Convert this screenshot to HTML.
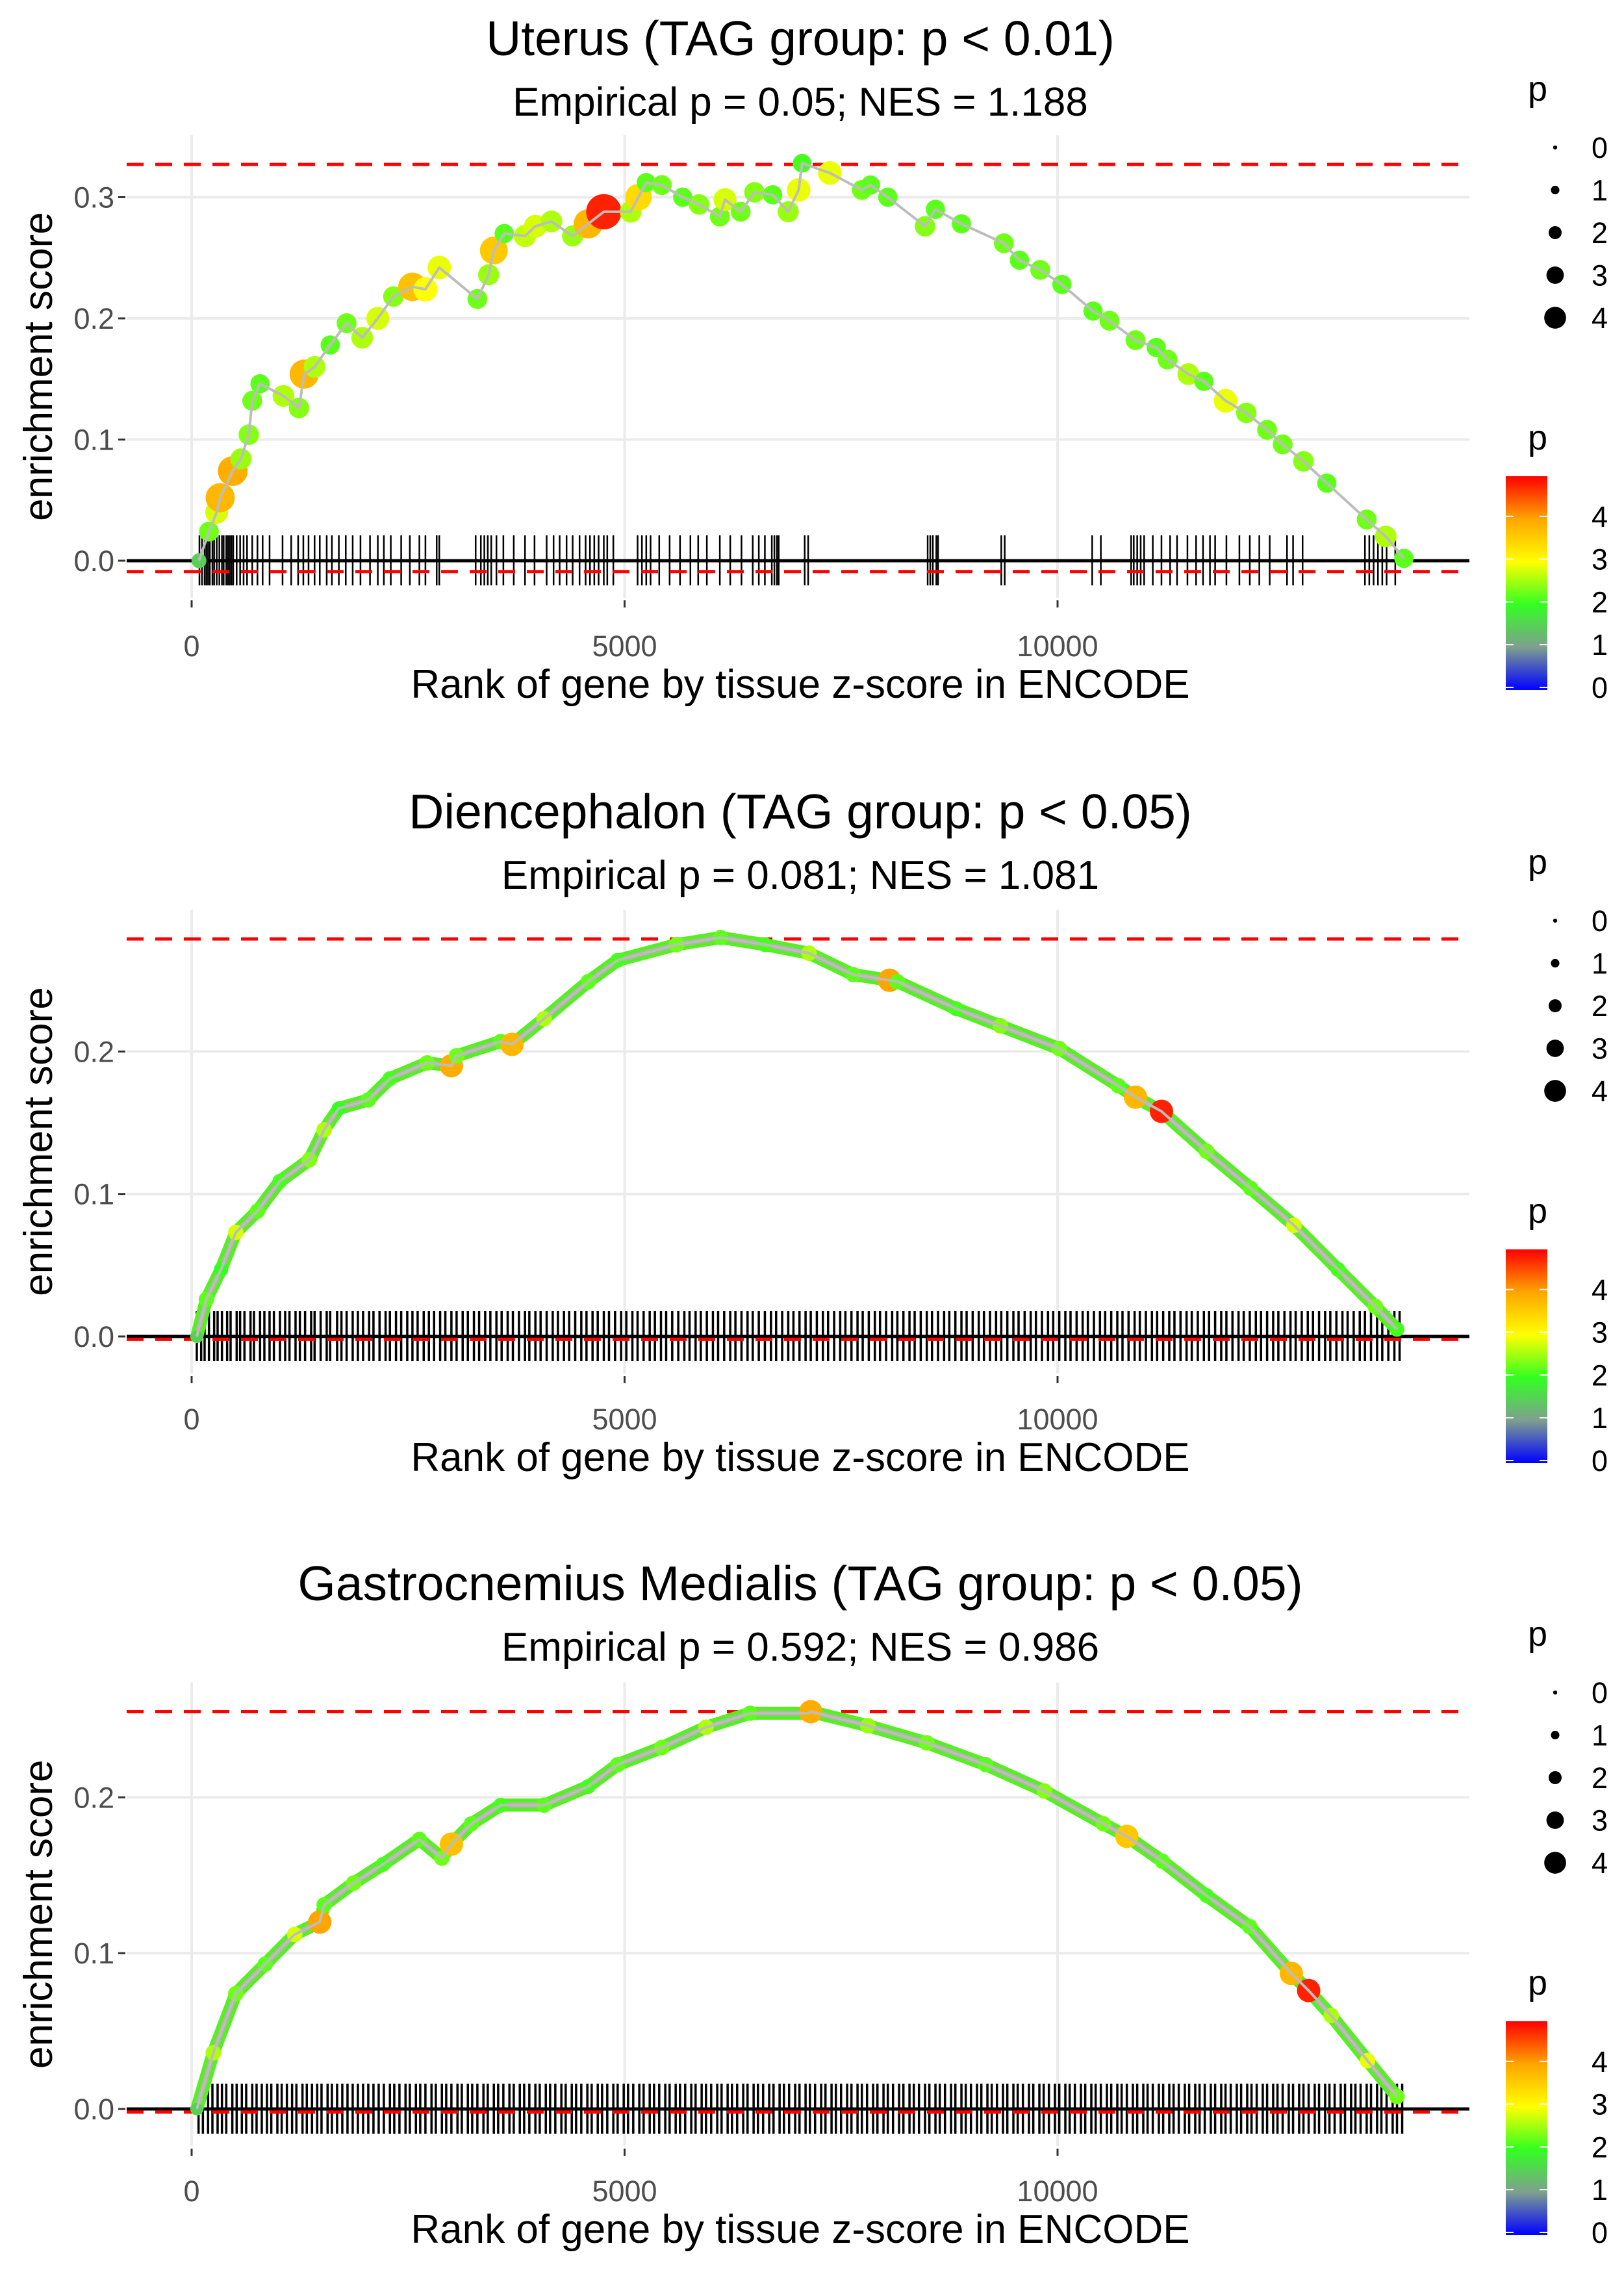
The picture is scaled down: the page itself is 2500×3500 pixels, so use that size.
<!DOCTYPE html>
<html><head><meta charset="utf-8">
<style>
html,body{margin:0;padding:0;background:#fff;}
svg{display:block;font-family:"Liberation Sans",sans-serif;}
</style></head>
<body>
<svg id="chart" width="2500" height="3500" viewBox="0 0 2500 3500" xmlns="http://www.w3.org/2000/svg">
<defs>
<linearGradient id="pgrad" x1="0" y1="1" x2="0" y2="0">
<stop offset="0" stop-color="#0000ff"/>
<stop offset="0.2" stop-color="#7f9f8f"/>
<stop offset="0.4" stop-color="#33ff22"/>
<stop offset="0.6" stop-color="#ffff00"/>
<stop offset="0.8" stop-color="#ffa500"/>
<stop offset="1" stop-color="#ff0000"/>
</linearGradient>
</defs>
</svg>
<script>
// ---------- data ----------
const xTicks = [0, 5000, 10000];
const xTickLabels = ["0", "5000", "10000"];
const panelTitles = ["Uterus (TAG group: p < 0.01)", "Diencephalon (TAG group: p < 0.05)", "Gastrocnemius Medialis (TAG group: p < 0.05)"];
const panelSubtitles = ["Empirical p = 0.05; NES = 1.188", "Empirical p = 0.081; NES = 1.081", "Empirical p = 0.592; NES = 0.986"];
const yTicks1 = [0, 0.1, 0.2, 0.3];
const yTicks2 = [0, 0.1, 0.2];
const yTicks3 = [0, 0.1, 0.2];
const maxES = [0.327, 0.279, 0.255];
const minES = [-0.009, -0.002, -0.002];

const uterusRank = [85,200,290,330,475,570,660,700,790,1060,1240,1300,1420,1600,1790,1970,2150,2330,2550,2700,2860,3300,3430,3490,3610,3850,3970,4155,4400,4580,4760,5070,5160,5250,5430,5670,5860,6100,6160,6340,6500,6710,6890,7010,7050,7370,7740,7840,8040,8470,8590,8890,9380,9560,9800,10050,10410,10600,10900,11140,11270,11510,11690,11940,12180,12420,12600,12840,13110,13570,13790,14000];
const uterusES = [0,0.024,0.04,0.052,0.074,0.084,0.104,0.132,0.146,0.136,0.126,0.154,0.16,0.178,0.196,0.184,0.2,0.218,0.226,0.224,0.242,0.216,0.236,0.256,0.27,0.268,0.276,0.28,0.268,0.278,0.288,0.288,0.3,0.312,0.31,0.3,0.294,0.284,0.298,0.288,0.304,0.302,0.288,0.306,0.328,0.32,0.306,0.31,0.3,0.276,0.29,0.278,0.262,0.248,0.24,0.228,0.206,0.198,0.182,0.176,0.166,0.154,0.148,0.132,0.122,0.108,0.096,0.082,0.064,0.034,0.02,0.002];
const uterusP = [1.5,2.3,2.8,3.8,3.9,2.5,2.4,2.3,2.2,2.6,2.4,3.8,2.6,2.2,2.3,2.6,2.8,2.4,3.7,3.0,2.9,2.3,2.5,3.6,2.2,2.7,2.8,2.6,2.5,3.8,4.8,2.6,3.4,2.2,2.3,2.2,2.4,2.3,2.8,2.3,2.4,2.2,2.5,2.9,2.1,2.9,2.3,2.2,2.2,2.4,2.2,2.2,2.3,2.2,2.3,2.2,2.2,2.3,2.3,2.2,2.3,2.6,2.2,2.9,2.4,2.3,2.3,2.4,2.2,2.3,2.6,2.2];
const uterusTicks = [90,120,150,170,190,210,240,260,290,320,350,370,400,420,440,460,480,520,560,600,640,700,760,820,900,1050,1150,1230,1290,1350,1420,1480,1560,1620,1700,1780,1860,1950,2060,2150,2220,2300,2420,2520,2630,2700,2830,2860,3280,3340,3380,3420,3460,3520,3600,3720,3850,3960,4100,4180,4250,4330,4400,4480,4550,4600,4650,4700,4760,4800,4870,5150,5200,5250,5300,5400,5520,5640,5760,5850,5950,6100,6220,6350,6480,6550,6620,6700,6730,6760,6780,7080,7120,8500,8530,8560,8600,8620,9350,9390,10400,10500,10850,10880,10920,10960,11000,11100,11200,11300,11380,11500,11600,11680,11760,11820,11950,12100,12220,12330,12450,12650,12720,12830,13550,13600,13650,13700,13750,13800,13900];

const dienRank = [60,170,340,510,760,1020,1360,1530,1700,2040,2290,2720,3000,3060,3570,3700,4070,4580,4920,5600,6110,6620,7130,7640,8060,8150,8830,9340,10020,10700,10900,11200,11720,12230,12730,13240,13670,13920];
const dienES = [0,0.026,0.047,0.073,0.088,0.109,0.124,0.145,0.16,0.166,0.181,0.192,0.19,0.197,0.207,0.205,0.223,0.249,0.264,0.275,0.28,0.275,0.269,0.254,0.25,0.249,0.23,0.218,0.202,0.176,0.168,0.158,0.13,0.104,0.078,0.047,0.021,0.005];
const dienP = [1.5,2.2,2.0,2.8,2.2,2.1,2.4,2.6,2.0,2.2,2.1,2.3,3.9,2.3,2.2,3.8,2.6,2.2,2.1,2.3,2.2,2.1,2.6,2.2,4.0,2.2,2.1,2.4,2.3,2.2,3.8,4.8,2.3,2.2,2.8,2.1,2.3,2.1];
const dienTicks = [60,110,150,200,260,300,350,410,450,520,560,610,680,720,790,840,900,950,1020,1080,1130,1200,1250,1310,1380,1420,1490,1560,1600,1680,1730,1790,1860,1920,1980,2050,2100,2170,2240,2290,2360,2420,2490,2550,2610,2680,2740,2800,2870,2930,3000,3060,3130,3190,3260,3320,3390,3450,3520,3580,3650,3710,3780,3850,3900,3970,4030,4100,4170,4230,4300,4360,4430,4500,4560,4630,4690,4760,4820,4890,4960,5020,5090,5150,5220,5290,5350,5420,5480,5550,5620,5690,5750,5820,5880,5950,6020,6080,6150,6220,6280,6350,6420,6480,6550,6620,6690,6750,6820,6890,6950,7020,7090,7150,7220,7290,7350,7420,7490,7550,7620,7690,7750,7820,7890,7950,8020,8090,8150,8220,8290,8350,8420,8490,8550,8620,8690,8750,8820,8890,8950,9020,9090,9150,9220,9290,9350,9420,9490,9550,9620,9690,9750,9820,9890,9950,10020,10090,10150,10220,10290,10350,10420,10490,10550,10620,10690,10750,10820,10890,10950,11020,11090,11150,11220,11290,11350,11420,11490,11550,11620,11690,11750,11820,11890,11950,12020,12090,12150,12220,12290,12350,12420,12490,12550,12620,12690,12750,12820,12890,12950,13020,13090,13150,13220,13290,13350,13420,13490,13550,13620,13690,13750,13820,13890,13950];

const gastRank = [60,250,510,850,1190,1480,1530,1870,2210,2630,2890,3000,3230,3570,4070,4580,4920,5430,5940,6450,7130,7150,7810,8490,9170,9850,10530,10800,11210,11720,12220,12700,12900,13160,13580,13920];
const gastES = [0,0.036,0.074,0.093,0.112,0.12,0.131,0.145,0.157,0.173,0.161,0.17,0.183,0.195,0.195,0.207,0.221,0.232,0.245,0.254,0.254,0.255,0.246,0.235,0.221,0.204,0.183,0.175,0.159,0.137,0.117,0.087,0.076,0.06,0.031,0.008];
const gastP = [1.5,2.6,2.3,2.2,2.8,4.0,2.2,2.3,2.1,2.2,2.3,3.7,2.2,2.1,2.2,2.1,2.2,2.3,2.6,2.2,2.4,3.9,2.5,2.3,2.2,2.4,2.3,3.6,2.2,2.1,2.2,3.8,4.8,2.6,2.9,2.3];
const gastTicks = [80,130,190,240,300,350,400,470,520,580,630,700,750,810,870,920,990,1040,1100,1160,1210,1280,1330,1390,1450,1500,1570,1620,1680,1740,1800,1860,1920,1980,2040,2100,2160,2220,2290,2340,2400,2470,2520,2590,2640,2700,2770,2820,2890,2940,3000,3070,3120,3190,3240,3300,3370,3420,3490,3540,3600,3670,3720,3790,3840,3900,3970,4020,4090,4140,4200,4270,4320,4390,4440,4500,4570,4620,4690,4740,4800,4870,4920,4990,5040,5100,5170,5220,5290,5340,5400,5470,5520,5590,5640,5700,5770,5820,5890,5940,6000,6070,6120,6190,6240,6300,6370,6420,6490,6540,6600,6670,6720,6790,6840,6900,6970,7020,7090,7140,7200,7270,7320,7390,7440,7500,7570,7620,7690,7740,7800,7870,7920,7990,8040,8100,8170,8220,8290,8340,8400,8470,8520,8590,8640,8700,8770,8820,8890,8940,9000,9070,9120,9190,9240,9300,9370,9420,9490,9540,9600,9670,9720,9790,9840,9900,9970,10020,10090,10140,10200,10270,10320,10390,10440,10500,10570,10620,10690,10740,10800,10870,10920,10990,11040,11100,11170,11220,11290,11340,11400,11470,11520,11590,11640,11700,11770,11820,11890,11940,12000,12070,12120,12190,12240,12300,12370,12420,12490,12540,12600,12670,12720,12790,12840,12900,12970,13020,13090,13140,13200,13270,13320,13390,13440,13500,13570,13620,13690,13740,13800,13870,13920,13980];

const sizeLegendValues = [0,1,2,3,4];
const colorLegendValues = [0,1,2,3,4];

// ---------- drawing ----------
const NS = "http://www.w3.org/2000/svg";
const svg = document.getElementById("chart");
function mk(tag, attrs, parent, text) {
  const e = document.createElementNS(NS, tag);
  for (const k in attrs) e.setAttribute(k, attrs[k]);
  if (text !== undefined) e.textContent = text;
  (parent || svg).appendChild(e);
  return e;
}
function xScale(r) { return 295 + r * 0.1333; }
const stops = [[0,[0,0,255]],[1,[127,159,143]],[2,[51,255,34]],[3,[255,255,0]],[4,[255,165,0]],[5,[255,0,0]]];
function pColor(p) {
  p = Math.max(0, Math.min(5, p));
  for (let i = 0; i < stops.length - 1; i++) {
    if (p <= stops[i+1][0]) {
      const t = (p - stops[i][0]) / (stops[i+1][0] - stops[i][0]);
      const a = stops[i][1], b = stops[i+1][1];
      return "rgb(" + a.map((v,j)=>Math.round(v + (b[j]-v)*t)).join(",") + ")";
    }
  }
  return "rgb(255,0,0)";
}
function pRadius(p) { return 3.5 + 3.8 * p; }

const panels = [
  {off: 0, y0: 863, k: 1865, ticks: yTicks1, rank: uterusRank, es: uterusES, p: uterusP, hits: uterusTicks, envelope: false},
  {off: 1190, y0: 2057, k: 2193, ticks: yTicks2, rank: dienRank, es: dienES, p: dienP, hits: dienTicks, envelope: true},
  {off: 2378, y0: 3246, k: 2398, ticks: yTicks3, rank: gastRank, es: gastES, p: gastP, hits: gastTicks, envelope: true}
];

panels.forEach((pn, i) => {
  const g = mk("g", {});
  
  
  const yS = v => pn.y0 - v * pn.k;
  const top = yS(maxES[i]) - 45, bottom = pn.y0 + 57;
  const t = mk("text", {x: 1232, y: pn.off + 85, "font-size": 75, "text-anchor": "middle", fill: "#000"}, g, panelTitles[i]);
  
  
  const st = mk("text", {x: 1232, y: pn.off + 178, "font-size": 62, "text-anchor": "middle", fill: "#000"}, g, panelSubtitles[i]);
  
  
  xTicks.forEach(xv => {
    const l = mk("line", {x1: xScale(xv), x2: xScale(xv), y1: top, y2: bottom, stroke: "#ebebeb", "stroke-width": 4}, g);
    
    
  });
  pn.ticks.forEach(yv => {
    const l = mk("line", {x1: 195, x2: 2262, y1: yS(yv), y2: yS(yv), stroke: "#ebebeb", "stroke-width": 4}, g);
    
    
    const tl = mk("text", {x: 176, y: yS(yv) + 16, "font-size": 45, "text-anchor": "end", fill: "#4d4d4d"}, g, yv.toFixed(1));
    
    
    mk("line", {x1: 182, x2: 193, y1: yS(yv), y2: yS(yv), stroke: "#333", "stroke-width": 3}, g);
  });
  xTicks.forEach((xv, j) => {
    mk("line", {x1: xScale(xv), x2: xScale(xv), y1: bottom + 4, y2: bottom + 15, stroke: "#333", "stroke-width": 3}, g);
    const tl = mk("text", {x: xScale(xv), y: pn.off + 1010, "font-size": 45, "text-anchor": "middle", fill: "#4d4d4d"}, g, xTickLabels[j]);
    
    
  });
  const xt = mk("text", {x: 1232, y: pn.off + 1074, "font-size": 62, "text-anchor": "middle", fill: "#000"}, g, "Rank of gene by tissue z-score in ENCODE");
  
  
  const ymid = (top + bottom) / 2;
  const yt = mk("text", {x: 0, y: 0, "font-size": 62, "text-anchor": "middle", fill: "#000", transform: "translate(80," + ymid + ") rotate(-90)"}, g, "enrichment score");
  
  
  pn.hits.forEach(r => {
    const l = mk("line", {x1: xScale(r), x2: xScale(r), y1: pn.y0 - 39, y2: pn.y0 + 38, stroke: "#000", "stroke-width": pn.envelope ? 3.5 : 2.5}, g);
    
    
  });
  const zl = mk("line", {x1: 195, x2: 2262, y1: pn.y0, y2: pn.y0, stroke: "#000", "stroke-width": 5}, g);
  
  
  [maxES[i], minES[i]].forEach((v, j) => {
    const l = mk("line", {x1: 195, x2: 2262, y1: yS(v), y2: yS(v), stroke: "#ff0000", "stroke-width": 5, "stroke-dasharray": "26,18"}, g);
    
    
  });
  const pts = pn.rank.map((r, j) => xScale(r).toFixed(1) + "," + yS(pn.es[j]).toFixed(1)).join(" ");
  if (pn.envelope) {
    const env = mk("polyline", {points: pts, fill: "none", stroke: "#55f020", "stroke-width": 20, "stroke-linejoin": "round", "stroke-linecap": "round"}, g);
    
    
    const env2 = mk("polyline", {points: pts, fill: "none", stroke: "#a0c090", "stroke-width": 9, "stroke-linejoin": "round"}, g);
    
    
  }
  pn.rank.forEach((r, j) => {
    const c = mk("circle", {cx: xScale(r), cy: yS(pn.es[j]), r: pn.envelope ? Math.min(pRadius(pn.p[j]), 12) * (pn.p[j] > 3.4 ? 1.5 : 1) : pRadius(pn.p[j]) * 1.25, fill: pColor(pn.p[j])}, g);
    
    
  });
  const line = mk("polyline", {points: pts, fill: "none", stroke: "#bdbdbd", "stroke-width": 4, "stroke-linejoin": "round"}, g);
  
  

  const lg = mk("g", {}, g);
  
  
  mk("text", {x: 2352, y: pn.off + 155, "font-size": 54, fill: "#000"}, lg, "p");
  sizeLegendValues.forEach((v, j) => {
    const cy = pn.off + 227 + j * 65.5;
    const d = mk("circle", {cx: 2394, cy: cy, r: pRadius(v) * 0.9, fill: "#000"}, lg);
    
    
    mk("text", {x: 2450, y: cy + 16, "font-size": 45, fill: "#000"}, lg, String(v));
  });
  const cg = mk("g", {}, g);
  
  
  mk("text", {x: 2352, y: pn.off + 692, "font-size": 54, fill: "#000"}, cg, "p");
  const barTop = pn.off + 733, barBot = pn.off + 1062;
  const bar = mk("rect", {x: 2318, y: barTop, width: 64, height: barBot - barTop, fill: "url(#pgrad)"}, cg);
  
  
  colorLegendValues.forEach(v => {
    const yy = barBot - 4 - v * 65.8;
    mk("line", {x1: 2318, x2: 2330, y1: yy, y2: yy, stroke: "#fff", "stroke-width": 2}, cg);
    mk("line", {x1: 2370, x2: 2382, y1: yy, y2: yy, stroke: "#fff", "stroke-width": 2}, cg);
    mk("text", {x: 2450, y: yy + 16, "font-size": 45, fill: "#000"}, cg, String(v));
  });
});
</script>
</body></html>
